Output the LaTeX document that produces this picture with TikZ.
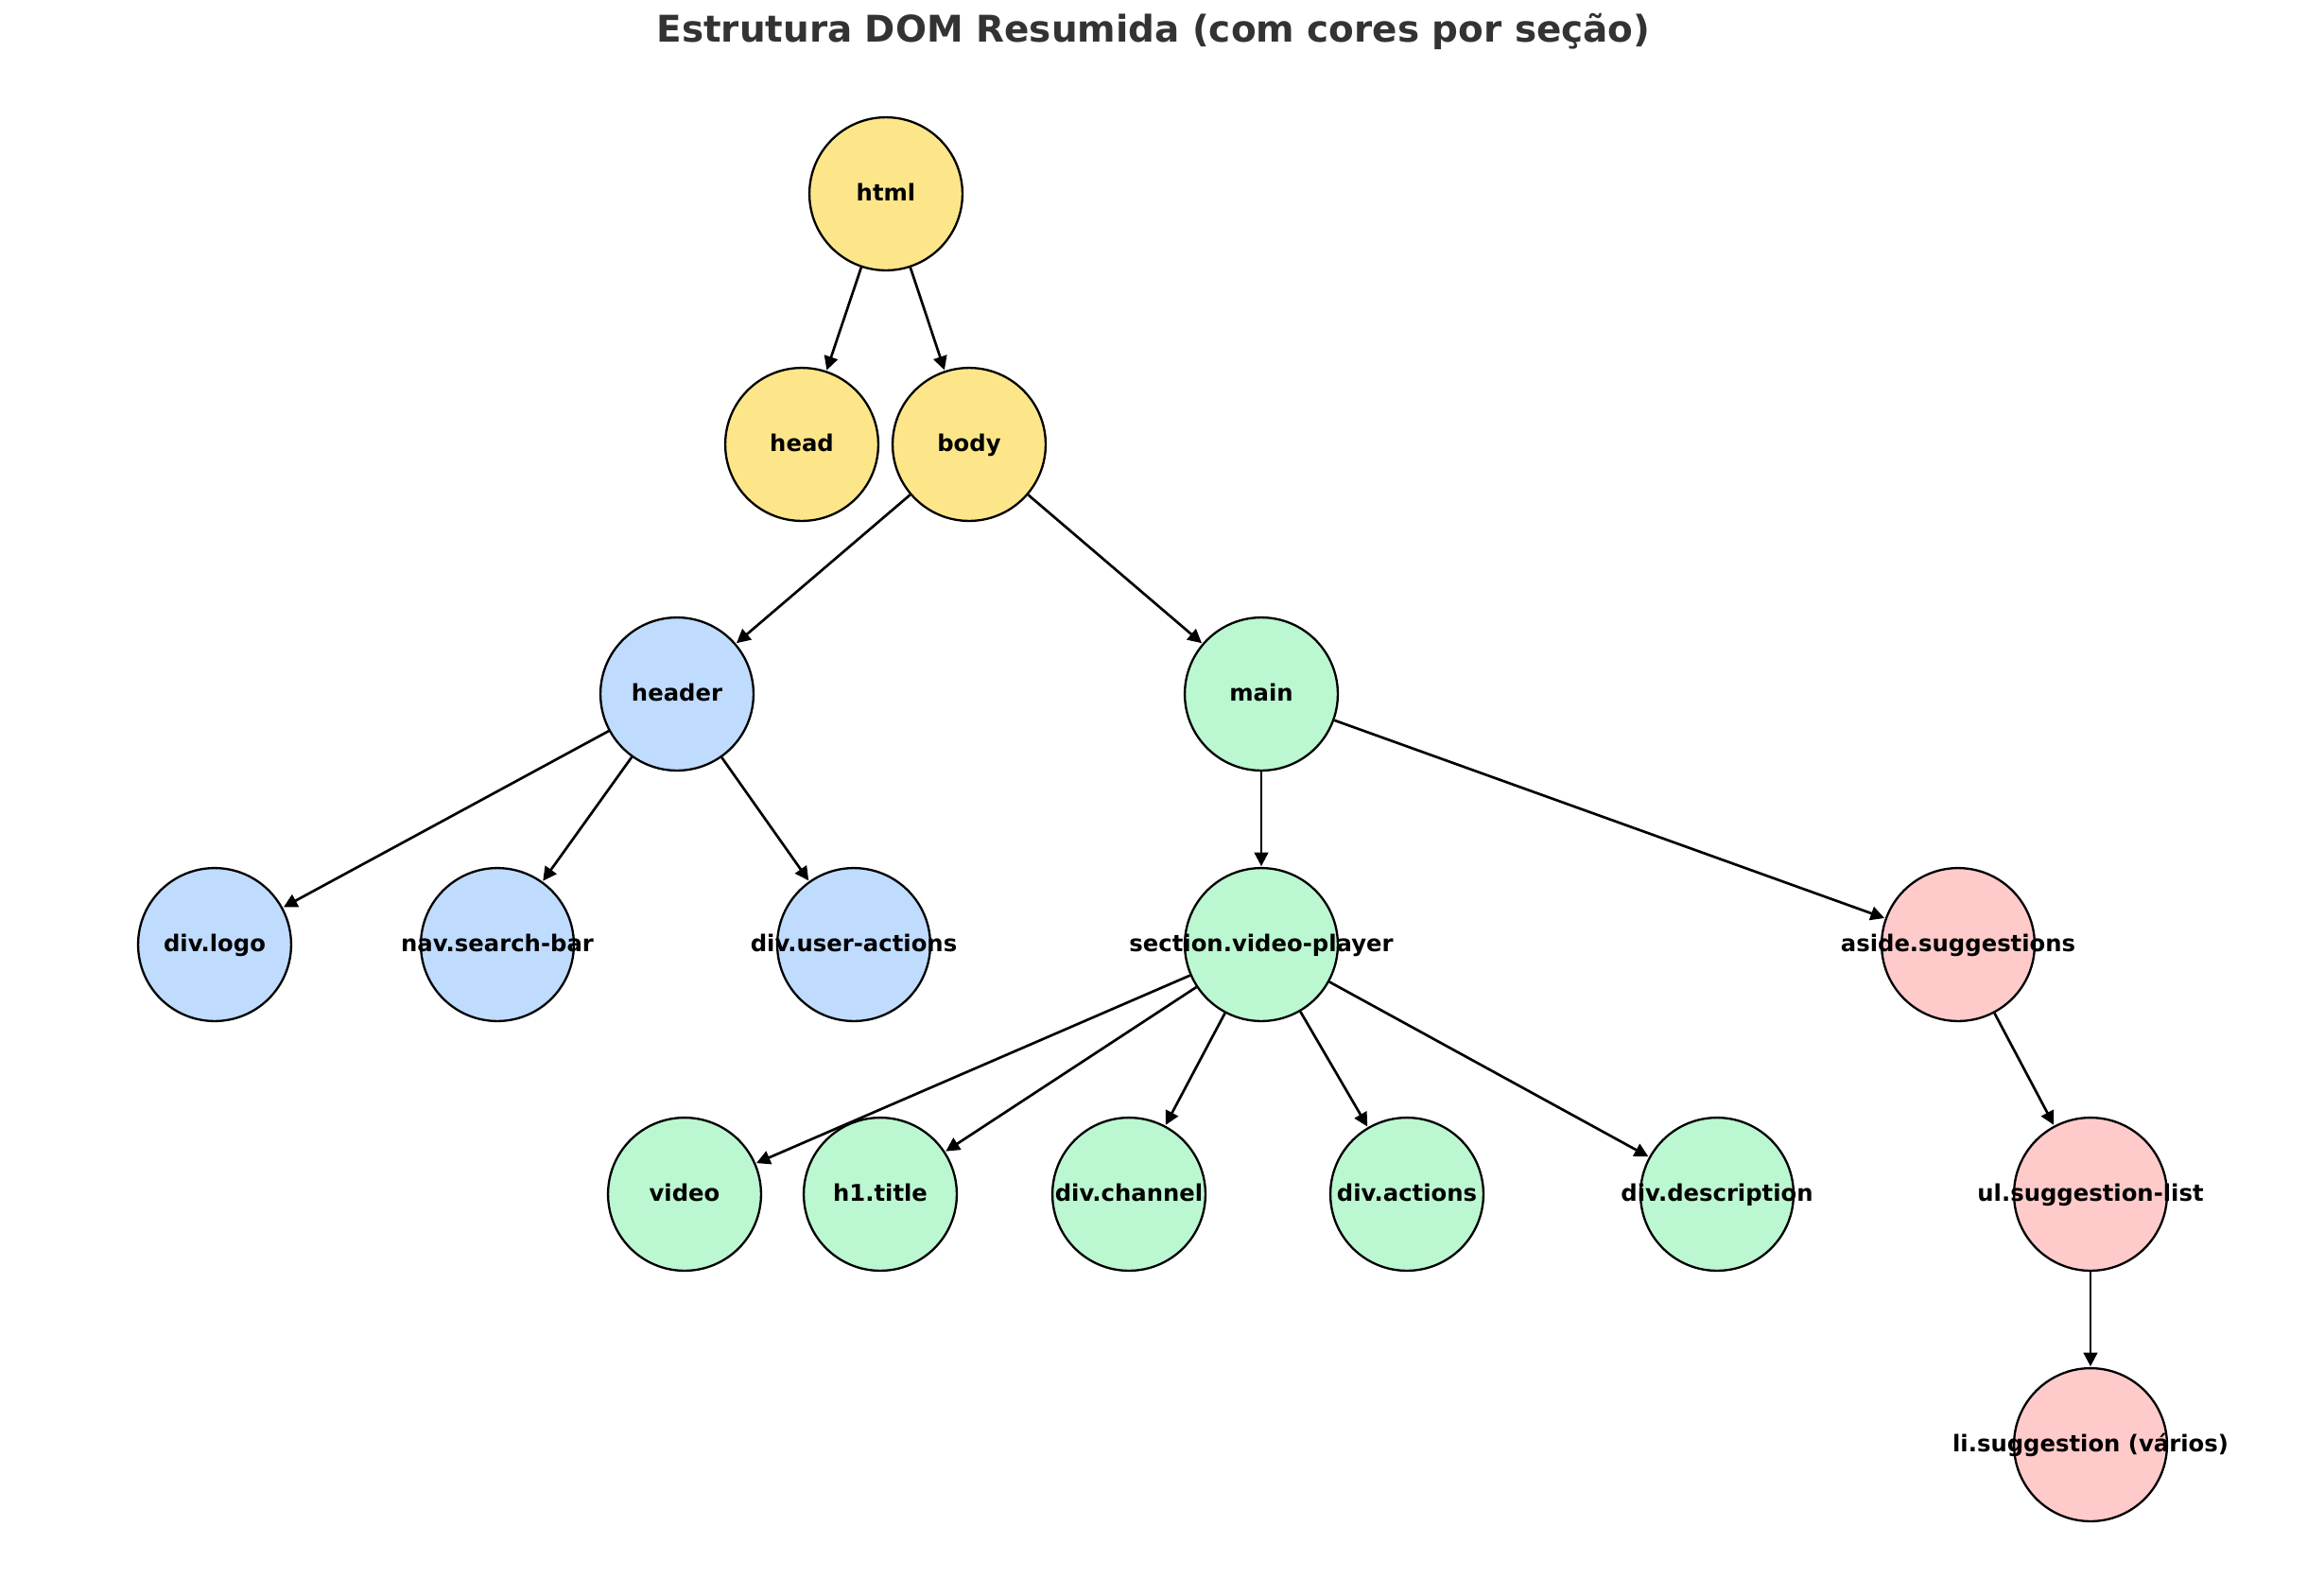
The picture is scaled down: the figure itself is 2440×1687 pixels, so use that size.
\documentclass[tikz,border=0pt]{standalone}
\usepackage{fontspec}
\setmainfont{DejaVu Sans}
\usetikzlibrary{arrows.meta}
\definecolor{cyel}{HTML}{FDE68A}
\definecolor{cblue}{HTML}{BFDBFE}
\definecolor{cgreen}{HTML}{BBF7D0}
\definecolor{cred}{HTML}{FECACA}
\definecolor{ctitle}{HTML}{333333}
\begin{document}
\begin{tikzpicture}[x=0.41143pt,y=-0.41143pt,
  nd/.style={circle,draw=black,line width=0.95pt,minimum size=66.6pt,inner sep=0pt},
  lbl/.style={inner sep=0pt,text height=0.76em,text depth=0.12em,font=\bfseries\fontsize{10}{12}\selectfont},
  yel/.style={nd,fill=cyel},
  blu/.style={nd,fill=cblue},
  grn/.style={nd,fill=cgreen},
  rd/.style={nd,fill=cred},
  edge/.style={-{Triangle[length=6pt,width=6pt]},line width=1.1pt,shorten >=0.3pt}
]
\useasboundingbox (0,0) rectangle (2440,1687);
\fill[white] (0,0) rectangle (2440,1687);
\node[inner sep=0pt,text=ctitle,text height=0.76em,text depth=0.12em,font=\bfseries\fontsize{16}{19}\selectfont] (title) at (1220,37) {Estrutura DOM Resumida (com cores por seção)};

\node[yel] (html) at (937,205) {};
\node[yel] (head) at (848,470) {};
\node[yel] (body) at (1025,470) {};
\node[blu] (header) at (716,734) {};
\node[grn] (main) at (1334,734) {};
\node[blu] (logo) at (227,999) {};
\node[blu] (nav) at (526,999) {};
\node[blu] (user) at (903,999) {};
\node[grn] (section) at (1334,999) {};
\node[rd] (aside) at (2071,999) {};
\node[grn] (video) at (724,1263) {};
\node[grn] (h1) at (931,1263) {};
\node[grn] (channel) at (1194,1263) {};
\node[grn] (actions) at (1488,1263) {};
\node[grn] (desc) at (1816,1263) {};
\node[rd] (ul) at (2211,1263) {};
\node[rd] (li) at (2211,1528) {};

\draw[edge] (html) -- (head);
\draw[edge] (html) -- (body);
\draw[edge] (body) -- (header);
\draw[edge] (body) -- (main);
\draw[edge] (header) -- (logo);
\draw[edge] (header) -- (nav);
\draw[edge] (header) -- (user);
\draw[edge] (main) -- (section);
\draw[edge] (main) -- (aside);
\draw[edge] (section) -- (video);
\draw[edge] (section) -- (h1);
\draw[edge] (section) -- (channel);
\draw[edge] (section) -- (actions);
\draw[edge] (section) -- (desc);
\draw[edge] (aside) -- (ul);
\draw[edge] (ul) -- (li);

\node[lbl] (t-html) at (html) {html};
\node[lbl] (t-head) at (head) {head};
\node[lbl] (t-body) at (body) {body};
\node[lbl] (t-header) at (header) {header};
\node[lbl] (t-main) at (main) {main};
\node[lbl] (t-logo) at (logo) {div.logo};
\node[lbl] (t-nav) at (nav) {nav.search-bar};
\node[lbl] (t-user) at (user) {div.user-actions};
\node[lbl] (t-section) at (section) {section.video-player};
\node[lbl] (t-aside) at (aside) {aside.suggestions};
\node[lbl] (t-video) at (video) {video};
\node[lbl] (t-h1) at (h1) {h1.title};
\node[lbl] (t-channel) at (channel) {div.channel};
\node[lbl] (t-actions) at (actions) {div.actions};
\node[lbl] (t-desc) at (desc) {div.description};
\node[lbl] (t-ul) at (ul) {ul.suggestion-list};
\node[lbl] (t-li) at (li) {li.suggestion (vários)};
\end{tikzpicture}
\end{document}
